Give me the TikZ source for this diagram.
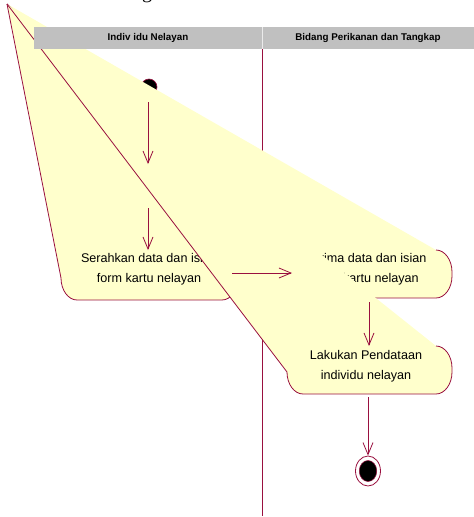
\documentclass[tikz,border=0pt]{standalone}
\usepackage{fontspec}
\setmainfont{Liberation Sans}
\newfontfamily\titlefont{Liberation Serif}
\usetikzlibrary{arrows.meta,shapes.geometric}
\definecolor{actfill}{HTML}{FFFFCC}
\definecolor{edgecol}{HTML}{99103F}
\definecolor{lanegray}{HTML}{C0C0C0}
% outline of a distorted activity: top-left corner pulled to (A)
\newcommand\actoutline[4]{({#2-16},#3) .. controls ({#2-7.2},#3) and (#2,{#3+9.9}) .. (#2,{#3+22}) -- (#2,{#4-22}) .. controls (#2,{#4-9.9}) and ({#2-7.2},#4) .. ({#2-16},#4) -- ({#1+16},#4) .. controls ({#1+7.2},#4) and (#1,{#4-9.9}) .. (#1,{#4-22}) -- (A)}
\begin{document}
\begin{tikzpicture}[x=1pt,y=-1pt,
  actfillstyle/.style={fill=actfill},
  actedge/.style={draw=edgecol, line width=0.8pt},
  flow/.style={draw=edgecol, line width=0.8pt, -{Straight Barb[length=12pt,width=10pt]}},
  acttext/.style={font=\fontsize{12.6}{20}\selectfont, align=center, text=black},
  lanehead/.style={fill=lanegray, minimum height=22pt, inner sep=0pt, font=\bfseries\fontsize{9.8}{11}\selectfont}]
\useasboundingbox (0,0) rectangle (474,517);

% fragment of a title above the picture
\node[font=\titlefont\fontsize{20}{20}\selectfont, anchor=base, inner sep=0pt] (title) at (147,-2) {g};

% lane separator
\coordinate (sepTop) at (262,49);
\coordinate (sepBot) at (262,516);
\draw[draw=edgecol, line width=0.8pt] (sepTop) -- (sepBot);

% start
\node[circle, fill=black, draw=edgecol, line width=0.6pt, minimum size=16pt, inner sep=0pt] (start) at (149,87) {};

\coordinate (A) at (7,4);

% activity 1
\fill[actfillstyle] (A) -- \actoutline{61}{238}{250}{300} -- cycle;
\draw[actedge] \actoutline{61}{238}{250}{300};
\node[acttext] (t1) at (149,269) {Serahkan data dan isian\\form kartu nelayan};

% activity 2
\fill[actfillstyle] (A) -- \actoutline{284}{452}{250}{298} -- cycle;
\draw[actedge] \actoutline{284}{452}{250}{298};
\node[acttext] (t2) at (366.5,269.5) {Terima data dan isian\\form kartu nelayan};

% activity 3
\fill[actfillstyle] (A) -- \actoutline{287}{452}{346}{394} -- cycle;
\draw[actedge] \actoutline{287}{452}{346}{394};
\node[acttext] (t3) at (366,366) {Lakukan Pendataan\\individu nelayan};

% end
\node[ellipse, draw=edgecol, fill=white, line width=0.8pt, minimum width=25pt, minimum height=30pt, inner sep=0pt] (end) at (368,471) {};
\node[ellipse, fill=black, draw=edgecol, line width=0.5pt, minimum width=17.5pt, minimum height=21pt, inner sep=0pt] (endin) at (end.center) {};

% transitions
\coordinate (a1s) at (148,102); \coordinate (a1e) at (148,164);
\coordinate (a2s) at (148,208); \coordinate (a2e) at (148,250);
\coordinate (a3s) at (232,273); \coordinate (a3e) at (292,273);
\coordinate (a4s) at (369,302); \coordinate (a4e) at (369,346);
\coordinate (a5s) at (368,397);
\draw[flow] (a1s) -- (a1e);
\draw[flow] (a2s) -- (a2e);
\draw[flow] (a3s) -- (a3e);
\draw[flow] (a4s) -- (a4e);
\draw[flow] (a5s) -- (end.north);

% swimlane headers
\node[lanehead, minimum width=228pt] (lane1) at (148,38) {Indiv idu Nelayan};
\node[lanehead, minimum width=212pt] (lane2) at (368,38) {Bidang Perikanan dan Tangkap};
\draw[white!92!black, line width=0.8pt] (lane1.north east) -- (lane1.south east);
\end{tikzpicture}
\end{document}
